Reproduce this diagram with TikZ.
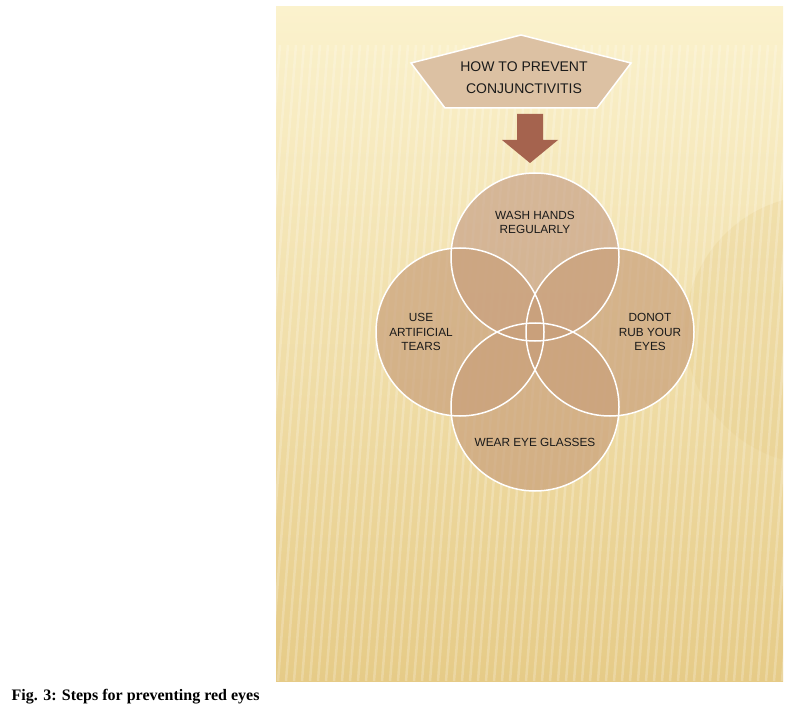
\documentclass[tikz,border=0pt]{standalone}
\usepackage{fontspec}
\setmainfont{Liberation Serif}
\setsansfont{Liberation Sans}
\usetikzlibrary{calc,positioning}
\definecolor{PanelTop}{HTML}{FBF2CD}
\definecolor{PanelMid}{HTML}{F6E6B3}
\definecolor{PanelBot}{HTML}{E6CB87}
\definecolor{TitleFill}{HTML}{DCC1A3}
\definecolor{ArrowFill}{HTML}{A5634E}
\definecolor{RingFill}{HTML}{C9A07B}
\definecolor{RingTop}{HTML}{C8A288}
\definecolor{InkDark}{HTML}{1A1A1A}

\begin{document}
\begin{tikzpicture}[x=1pt, y=-1pt,
  ring/.style={circle, minimum size=168pt, inner sep=0pt, fill=RingFill, fill opacity=0.7},
  rim/.style={draw=white, line width=1.5pt},
  lbl/.style={font=\sffamily\fontsize{11.8}{14.2}\selectfont, text=InkDark, align=center, inner sep=0pt},
  head/.style={font=\sffamily\fontsize{14}{21.6}\selectfont, text=InkDark, align=center, inner sep=0pt}]
  \useasboundingbox (0,0) rectangle (795,711);
  % background panel
  \shade[top color=PanelTop, middle color=PanelMid, bottom color=PanelBot] (276,7) rectangle (783,681);
  \begin{scope}
    \clip (276,7) rectangle (783,681);
    \fill[PanelBot, opacity=0.25] (820,330) circle[radius=135];
    \foreach \x in {280,288,...,860}
      \draw[white, opacity=0.22, line width=2.5pt] (\x,45) -- (\x-50,681);
  \end{scope}
  % title and arrow
  \filldraw[TitleFill, rim] (521,35) -- (631,63) -- (597,108) -- (445,108) -- (411,63) -- cycle;
  \node[head] (title) at (524,77.5) {HOW TO PREVENT\\CONJUNCTIVITIS};
  \fill[ArrowFill] (517,114) -- (543,114) -- (543,140) -- (558,140) -- (530,163)
    -- (502,140) -- (517,140) -- cycle;
  % overlapping circles
  \node[ring, fill=RingTop] (wash) at (535,257) {};
  \node[ring] (tears) at (460,332) {};
  \node[ring] (rub) at (610,332) {};
  \node[ring] (glasses) at (535,407) {};
  \foreach \n in {wash,tears,rub,glasses}
    \draw[rim] (\n.center) circle[radius=84];
  \node[lbl] (washtxt) at ([yshift=34.5pt]wash.center) {WASH HANDS\\REGULARLY};
  \node[lbl] (tearstxt) at ([xshift=-39pt]tears.center) {USE\\ARTIFICIAL\\TEARS};
  \node[lbl] (rubtxt) at ([xshift=40pt]rub.center) {DONOT\\RUB YOUR\\EYES};
  \node[lbl] (glassestxt) at ([yshift=-35.5pt]glasses.center) {WEAR EYE GLASSES};
  % caption
  \node[anchor=west, inner sep=0pt, font=\bfseries\fontsize{16}{18}\selectfont] (caption) at (11.5,697) {Fig. 3: Steps for preventing red eyes};
\end{tikzpicture}
\end{document}
